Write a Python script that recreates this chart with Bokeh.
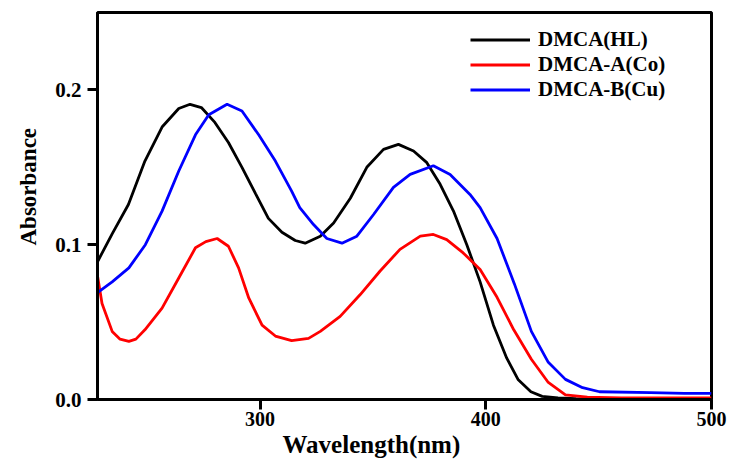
from bokeh.plotting import figure
from bokeh.models import Range1d, FixedTicker, Legend, LegendItem, NumeralTickFormatter, Title
from bokeh.embed import file_html
from bokeh.resources import INLINE

# --- data ---
hl_wl = [228, 234.5, 241.7, 249, 256.6, 264, 269, 274, 280, 286, 292, 298, 303.7, 309.7,
         315.6, 320, 326.7, 332.6, 340, 347.3, 354.7, 361.3, 368, 373.9, 379.8, 385.7,
         391.6, 397.5, 403.4, 409.3, 414.4, 420, 425, 432, 440, 460, 500]
hl_abs = [0.089, 0.107, 0.126, 0.154, 0.176, 0.188, 0.1907, 0.1886, 0.179, 0.166, 0.150,
          0.133, 0.117, 0.108, 0.1027, 0.101, 0.1055, 0.114, 0.130, 0.150, 0.1616, 0.1648,
          0.1605, 0.153, 0.139, 0.1217, 0.100, 0.076, 0.048, 0.0267, 0.0127, 0.005, 0.002,
          0.001, 0.0005, 0.0, 0.0]

co_wl = [228, 230, 234.5, 238, 241.9, 245, 249, 256.6, 264, 271.4, 276, 281, 286, 290.5,
         295, 300.9, 306.8, 314, 321.5, 326.7, 335.5, 344.4, 353.2, 362, 371, 376.8, 382.7,
         390, 397.5, 405, 412.4, 420.2, 427.7, 435.3, 445, 460, 500]
co_abs = [0.080, 0.062, 0.044, 0.039, 0.0375, 0.039, 0.045, 0.059, 0.0785, 0.098, 0.102,
          0.104, 0.099, 0.085, 0.0656, 0.048, 0.041, 0.038, 0.0395, 0.044, 0.0537, 0.0678,
          0.083, 0.097, 0.1055, 0.1066, 0.1033, 0.0947, 0.084, 0.066, 0.045, 0.026, 0.011,
          0.003, 0.0015, 0.001, 0.001]

cu_wl = [228, 234.5, 241.9, 249.2, 256.6, 264, 271.4, 277.3, 285.4, 292, 299.4, 306.8, 314,
         317.6, 323.7, 329.6, 336.3, 342.9, 350.3, 359.1, 366.5, 376.8, 384.2, 393, 397.5,
         405, 412.6, 420.2, 427.7, 435.3, 442.9, 450.4, 473, 488, 500]
cu_abs = [0.069, 0.076, 0.085, 0.100, 0.1217, 0.1476, 0.171, 0.184, 0.1907, 0.1864, 0.171,
          0.154, 0.1346, 0.124, 0.113, 0.104, 0.101, 0.1055, 0.1195, 0.137, 0.1454, 0.151,
          0.1454, 0.1325, 0.124, 0.104, 0.075, 0.044, 0.024, 0.013, 0.0076, 0.0050,
          0.0045, 0.004, 0.004]

series_names = ["DMCA(HL)", "DMCA-A(Co)", "DMCA-B(Cu)"]
series_colors = ["#000000", "#ff0000", "#0000ff"]
x_ticks = [300, 400, 500]
y_ticks = [0.0, 0.1, 0.2]
x_title = "Wavelength(nm)"
y_title = "Absorbance"

FONT = "Liberation Serif"

p = figure(width=729, height=461, output_backend="svg", toolbar_location=None,
           x_range=Range1d(228, 500), y_range=Range1d(0, 0.25),
           min_border_left=97, min_border_right=18, min_border_top=12, min_border_bottom=62)

r1 = p.line(hl_wl, hl_abs, line_color=series_colors[0], line_width=2.8)
r2 = p.line(co_wl, co_abs, line_color=series_colors[1], line_width=2.8)
r3 = p.line(cu_wl, cu_abs, line_color=series_colors[2], line_width=2.8)

p.grid.visible = False
p.outline_line_color = "black"
p.outline_line_width = 3
p.background_fill_color = "white"
p.border_fill_color = "white"

for ax in (p.xaxis[0], p.yaxis[0]):
    ax.axis_line_width = 3
    ax.major_tick_line_width = 3
    ax.major_tick_out = 10
    ax.major_tick_in = 0
    ax.minor_tick_line_color = None
    ax.major_label_text_font = FONT
    ax.major_label_text_font_style = "bold"
    ax.major_label_text_color = "black"

p.xaxis.ticker = FixedTicker(ticks=x_ticks)
p.yaxis.ticker = FixedTicker(ticks=y_ticks)
p.yaxis.formatter = NumeralTickFormatter(format="0.0")

p.xaxis.major_label_text_font_size = "20px"
p.xaxis.major_label_standoff = 2
p.yaxis.major_label_text_font_size = "21px"
p.yaxis.major_label_standoff = 6

# axis titles as side titles so they can be offset like in the reference
xt = Title(text=x_title, align="left", offset=185, standoff=0,
           text_font=FONT, text_font_style="bold", text_font_size="25px",
           text_color="black")
p.add_layout(xt, "below")
yt = Title(text=y_title, align="left", offset=154, standoff=24,
           text_font=FONT, text_font_style="bold", text_font_size="23px",
           text_color="black")
p.add_layout(yt, "left")

legend = Legend(items=[LegendItem(label=series_names[0], renderers=[r1]),
                       LegendItem(label=series_names[1], renderers=[r2]),
                       LegendItem(label=series_names[2], renderers=[r3])],
                location=(373, 297), orientation="vertical")
legend.border_line_color = None
legend.background_fill_alpha = 0
legend.padding = 0
legend.margin = 0
legend.spacing = 0
legend.glyph_width = 60
legend.glyph_height = 23
legend.label_height = 23
legend.label_standoff = 8
legend.label_text_font = FONT
legend.label_text_font_style = "bold"
legend.label_text_font_size = "21px"
legend.label_text_color = "black"
p.add_layout(legend)

open("out.html", "w").write(file_html(p, INLINE))
